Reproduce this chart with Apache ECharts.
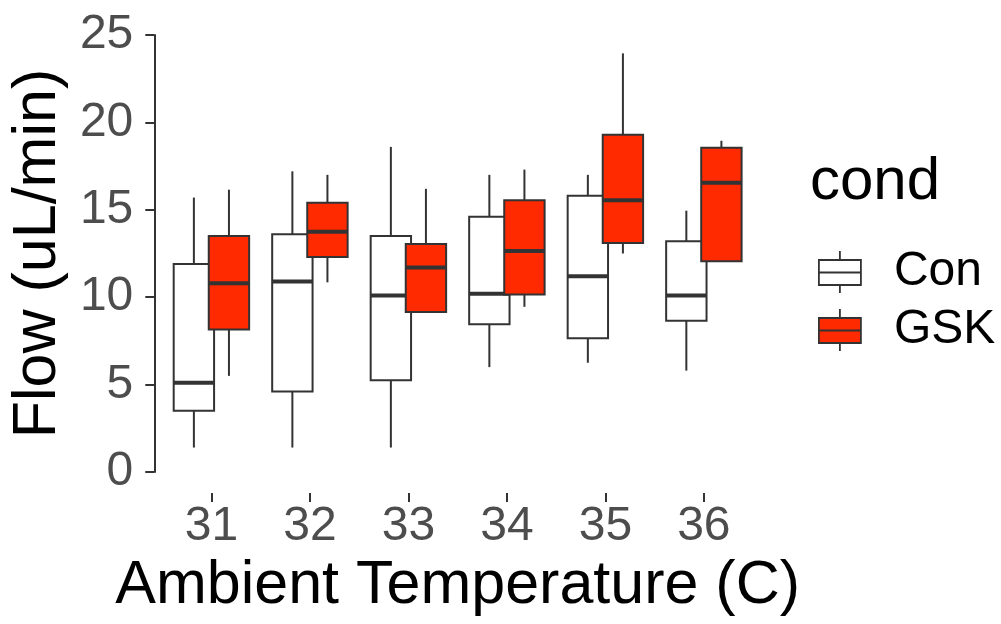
<!DOCTYPE html>
<html>
<head>
<meta charset="utf-8">
<title>Flow by ambient temperature</title>
<script src="https://cdn.jsdelivr.net/npm/echarts@6/dist/echarts.min.js"></script>
<style>
  html, body { margin: 0; padding: 0; background: #fff; }
  #chart { width: 1001px; height: 624px; }
</style>
</head>
<body>
<div id="chart"></div>
<script>
// temperatures on the x axis
const categories = ['31', '32', '33', '34', '35', '36']
const yTicks = [0, 5, 10, 15, 20, 25]

// box stats per temperature: [lower whisker, Q1, median, Q3, upper whisker]
const conBoxes = [
  [1.4, 3.5, 5.1, 11.9, 15.7],
  [1.4, 4.6, 10.9, 13.6, 17.2],
  [1.4, 5.25, 10.1, 13.5, 18.6],
  [6.0, 8.45, 10.2, 14.6, 17.0],
  [6.25, 7.65, 11.2, 15.8, 17.0],
  [5.8, 8.65, 10.1, 13.2, 14.95]
]
const gskBoxes = [
  [5.5, 8.15, 10.8, 13.5, 16.15],
  [10.85, 12.3, 13.75, 15.4, 17.0],
  [9.15, 9.15, 11.7, 13.05, 16.2],
  [9.45, 10.15, 12.65, 15.55, 17.3],
  [12.5, 13.1, 15.55, 19.3, 23.95],
  [12.05, 12.05, 16.55, 18.55, 18.95]
]

const font = '"Liberation Sans", Arial, sans-serif'
const ink = '#333333'
const red = '#ff2a00'
const dodge = 0.178
const halfWidth = 0.205

// legend glyph: box, whiskers and median line
const glyph = 'path://M0,9L42,9L42,34L0,34Z M21,0L21,9 M21,34L21,42 M0,21.5L42,21.5'

function boxRenderer(offset, fill) {
  return function (params, api) {
    const x = api.value(0) + offset
    const low = api.coord([x, api.value(1)])
    const q1 = api.coord([x, api.value(2)])
    const med = api.coord([x, api.value(3)])
    const q3 = api.coord([x, api.value(4)])
    const high = api.coord([x, api.value(5)])
    const left = api.coord([x - halfWidth, 0])[0]
    const right = api.coord([x + halfWidth, 0])[0]
    return {
      type: 'group',
      children: [
        { type: 'line', shape: { x1: q3[0], y1: q3[1], x2: high[0], y2: high[1] }, style: { stroke: ink, lineWidth: 2 } },
        { type: 'line', shape: { x1: q1[0], y1: q1[1], x2: low[0], y2: low[1] }, style: { stroke: ink, lineWidth: 2 } },
        { type: 'rect', shape: { x: left, y: q3[1], width: right - left, height: q1[1] - q3[1] }, style: { fill: fill, stroke: ink, lineWidth: 2 } },
        { type: 'line', shape: { x1: left, y1: med[1], x2: right, y2: med[1] }, style: { stroke: ink, lineWidth: 4 } }
      ]
    }
  }
}

const chart = echarts.init(document.getElementById('chart'))
chart.setOption({
  animation: false,
  backgroundColor: '#fff',
  title: {
    text: 'cond', left: 810, top: 152, padding: 0,
    textStyle: { fontFamily: font, fontSize: 60, fontWeight: 'normal', color: '#000' }
  },
  legend: {
    orient: 'vertical', left: 818, top: 248, padding: 0,
    itemWidth: 42, itemHeight: 42, itemGap: 10, selectedMode: false,
    textStyle: { fontFamily: font, fontSize: 48, color: '#000', padding: [0, 0, 0, 28] },
    data: [
      { name: 'Con', icon: glyph, itemStyle: { color: '#fff', borderColor: ink, borderWidth: 1.8 } },
      { name: 'GSK', icon: glyph, itemStyle: { color: red, borderColor: ink, borderWidth: 1.8 } }
    ]
  },
  grid: { left: 151, right: 240, top: 35, bottom: 152 },
  xAxis: {
    type: 'value', min: -0.58, max: 5.58, offset: 21,
    name: 'Ambient Temperature (C)', nameLocation: 'middle', nameGap: 56,
    nameTextStyle: { fontFamily: font, fontSize: 61, color: '#000' },
    axisLine: { show: false, onZero: false },
    axisTick: { show: true, length: 9, customValues: [0, 1, 2, 3, 4, 5], lineStyle: { color: ink, width: 2 } },
    axisLabel: {
      customValues: [0, 1, 2, 3, 4, 5], margin: 10,
      fontFamily: font, fontSize: 48, color: '#4d4d4d',
      formatter: v => categories[Math.round(v)]
    },
    splitLine: { show: false }
  },
  yAxis: {
    type: 'value', min: 0, max: 25,
    name: 'Flow (uL/min)', nameLocation: 'middle', nameGap: 78,
    nameTextStyle: { fontFamily: font, fontSize: 61, color: '#000' },
    axisLine: { show: true, onZero: false, lineStyle: { color: ink, width: 2 } },
    axisTick: { show: true, length: 9, customValues: yTicks, lineStyle: { color: ink, width: 2 } },
    axisLabel: { customValues: yTicks, margin: 21, fontFamily: font, fontSize: 48, color: '#4d4d4d' },
    splitLine: { show: false }
  },
  series: [
    {
      name: 'Con', type: 'custom', itemStyle: { color: '#fff', borderColor: ink },
      renderItem: boxRenderer(-dodge, '#ffffff'),
      encode: { x: 0, y: [1, 2, 3, 4, 5] },
      data: conBoxes.map((b, i) => [i].concat(b))
    },
    {
      name: 'GSK', type: 'custom', itemStyle: { color: red, borderColor: ink },
      renderItem: boxRenderer(dodge, red),
      encode: { x: 0, y: [1, 2, 3, 4, 5] },
      data: gskBoxes.map((b, i) => [i].concat(b))
    }
  ]
})
</script>
</body>
</html>
